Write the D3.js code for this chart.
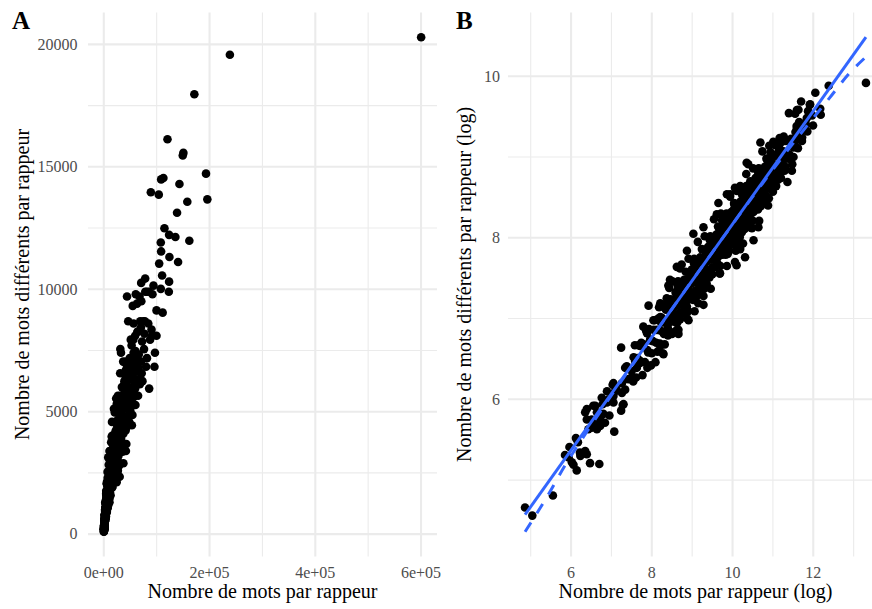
<!DOCTYPE html>
<html>
<head>
<meta charset="utf-8">
<script src="https://cdn.jsdelivr.net/npm/d3@7"></script>
<style>
  body { margin: 0; background: #fff; }
  text { font-family: "Liberation Serif", "DejaVu Serif", serif; }
</style>
</head>
<body>
<svg id="chart" width="872" height="609"></svg>
<script>
// Data: each rapper as [log(nombre de mots), log(nombre de mots différents)]
// Panel A shows exp() of these, panel B the log values themselves.

// lower tail of the cloud
const queueBasse = [
  [4.86,4.66],[5.04,4.56],[5.55,4.81],
  [5.85,5.31],[5.94,5.28],[5.96,5.41],[6.02,5.22],[6.06,5.19],[6.14,5.12],[6.12,5.52],
  [6.17,5.47],[6.22,5.34],[6.23,5.30],[6.35,5.36],[6.39,5.32],[6.47,5.21],[6.70,5.20],
  [6.35,5.84],[6.39,5.75],[6.39,5.88],[6.43,5.63],[6.51,5.65],[6.51,5.75],[6.55,5.92],
  [6.60,5.71],[6.60,5.92],[6.64,5.63],[6.64,5.84],[6.72,5.67],[6.72,5.77],[6.76,6.02],
  [6.78,5.94],[6.80,5.82],[6.84,5.71],[6.89,5.96],[6.89,6.10],[6.93,6.00],[6.95,5.80],
  [7.03,6.18],[7.05,5.96],[7.05,6.04],[7.05,6.20],[7.07,5.60],[7.09,6.10],[7.13,6.12],
  [7.24,5.86],[7.24,6.64],[7.26,6.08],[7.26,6.20],[7.28,5.93],[7.30,5.94],[7.34,6.12],
  [7.34,6.39],[7.38,6.41],[7.42,6.25],[7.50,6.35],[7.54,6.22],[7.54,6.27],[7.59,6.47],
  [7.63,6.39],[7.71,6.45],[7.71,6.66]
];

// body of the cloud
const coeurNuage = [
  [7.50,6.27],[7.55,6.52],[7.58,6.67],[7.61,6.27],[7.64,6.51],[7.67,6.67],
  [7.70,6.48],[7.74,6.70],[7.77,6.30],[7.80,6.68],[7.83,6.46],[7.86,6.85],[7.89,6.61],
  [7.91,6.58],[7.93,6.87],[7.96,6.73],[7.98,6.42],
  [8.00,6.57],[8.03,6.72],[8.05,6.86],[8.07,6.98],[8.09,6.46],
  [8.11,6.70],[8.13,6.86],[8.16,7.00],[8.18,7.14],[8.14,6.59],
  [8.20,6.69],[8.22,6.85],[8.25,7.01],[8.27,7.15],[8.29,6.56],[8.23,6.95],
  [8.30,6.81],[8.33,6.98],[8.35,7.11],[8.37,7.25],[8.32,6.68],[8.39,6.90],
  [8.40,6.79],[8.42,6.95],[8.45,7.10],[8.47,7.24],[8.43,7.38],[8.49,7.03],[8.41,7.17],
  [8.50,6.81],[8.55,6.96],[8.52,7.07],[8.57,7.15],[8.54,7.23],[8.59,7.32],[8.51,7.46],[8.56,7.03],
  [8.63,6.95],[8.68,7.17],[8.60,7.33],[8.65,7.46],[8.69,7.07],[8.62,7.25],[8.66,6.81],[8.64,7.41],
  [8.77,7.08],[8.71,7.27],[8.79,7.43],[8.73,7.19],[8.76,7.35],[8.70,6.99],[8.74,7.67],[8.78,7.25],
  [8.85,7.21],[8.82,7.40],[8.88,7.00],[8.80,7.48],[8.87,7.29],[8.84,7.58],[8.89,7.45],[8.81,7.12],
  [8.90,7.09],[8.95,7.24],[8.92,7.35],[8.97,7.43],[8.94,7.51],[8.99,7.60],[8.91,7.74],[8.96,7.31],
  [9.03,7.23],[9.08,7.45],[9.00,7.61],[9.05,7.74],[9.09,7.35],[9.02,7.53],[9.06,7.09],[9.04,7.69],
  [9.17,7.36],[9.11,7.55],[9.19,7.71],[9.13,7.47],[9.16,7.63],[9.10,7.27],[9.14,7.95],[9.18,7.53],
  [9.25,7.49],[9.22,7.68],[9.28,7.28],[9.20,7.76],[9.27,7.57],[9.24,7.86],[9.29,7.73],[9.21,7.40],
  [9.30,7.37],[9.35,7.52],[9.32,7.63],[9.37,7.71],[9.34,7.79],[9.39,7.88],[9.31,8.02],[9.36,7.59],
  [9.43,7.51],[9.48,7.73],[9.40,7.89],[9.45,8.02],[9.49,7.63],[9.42,7.81],[9.46,7.37],[9.44,7.97],
  [9.57,7.64],[9.51,7.83],[9.59,7.99],[9.53,7.75],[9.56,7.91],[9.50,7.55],[9.54,8.23],[9.58,7.81],
  [9.65,7.77],[9.62,7.96],[9.68,7.56],[9.60,8.04],[9.67,7.85],[9.64,8.14],[9.69,8.01],[9.61,7.68],
  [9.70,7.65],[9.75,7.80],[9.72,7.91],[9.77,7.99],[9.74,8.07],[9.79,8.16],[9.71,8.30],[9.76,7.87],
  [9.83,7.79],[9.88,8.01],[9.80,8.17],[9.85,8.30],[9.89,7.91],[9.82,8.09],[9.86,7.65],[9.84,8.25],
  [9.97,7.92],[9.91,8.11],[9.99,8.27],[9.93,8.03],[9.96,8.19],[9.90,7.83],[9.94,8.51],[9.98,8.09],
  [10.05,8.05],[10.02,8.24],[10.08,7.84],[10.00,8.32],[10.07,8.13],[10.04,8.42],[10.09,8.29],[10.01,7.96],
  [10.10,7.93],[10.15,8.08],[10.12,8.19],[10.17,8.27],[10.14,8.35],[10.19,8.44],[10.11,8.58],[10.16,8.15],
  [10.23,8.07],[10.28,8.29],[10.20,8.45],[10.25,8.58],[10.29,8.19],[10.22,8.37],[10.26,7.93],[10.24,8.53],
  [10.37,8.20],[10.31,8.39],[10.39,8.55],[10.33,8.31],[10.36,8.47],[10.30,8.11],[10.34,8.79],[10.38,8.37],
  [10.45,8.33],[10.42,8.52],[10.48,8.12],[10.40,8.60],[10.47,8.41],[10.44,8.70],[10.49,8.57],[10.41,8.24],
  [10.50,8.21],[10.55,8.36],[10.52,8.47],[10.57,8.55],[10.54,8.63],[10.59,8.72],[10.51,8.86],[10.56,8.43],
  [10.63,8.35],[10.68,8.57],[10.60,8.73],[10.65,8.86],[10.69,8.47],[10.62,8.65],[10.66,8.21],[10.64,8.81],
  [10.77,8.48],[10.71,8.67],[10.79,8.83],[10.73,8.59],[10.76,8.75],[10.70,8.39],[10.74,9.07],[10.78,8.65],
  [10.85,8.61],[10.82,8.80],[10.88,8.40],[10.80,8.88],[10.87,8.69],[10.84,8.98],[10.89,8.85],[10.81,8.52],
  [10.90,8.49],[10.95,8.64],[10.92,8.75],[10.97,8.83],[10.94,8.91],[10.99,9.00],[10.91,9.14],[10.96,8.71],
  [11.00,8.57],[11.04,8.75],[11.02,8.89],[11.07,9.02],[11.05,9.15],[11.09,8.82],
  [11.13,8.72],[11.10,8.90],[11.16,9.04],[11.12,9.18],[11.18,8.79],
  [11.20,8.74],[11.24,8.93],[11.22,9.07],[11.27,9.20],[11.25,9.01],[11.29,8.83],
  [11.31,8.88],[11.34,9.06],[11.36,9.20],[11.38,8.98],
  [11.41,9.03],[11.43,9.19],[11.48,8.91],[11.51,9.12],[11.62,9.11],[11.72,9.20]
];

// densest part, close to the fitted line
const coeurDense = [
  [9.62,7.69],[9.66,7.81],[9.69,7.92],[9.64,8.02],[9.67,8.11],[9.60,7.75],
  [9.75,7.79],[9.71,7.93],[9.77,8.04],[9.73,8.14],[9.79,7.85],[9.74,8.22],
  [9.88,7.80],[9.83,7.97],[9.80,8.08],[9.86,8.18],[9.82,8.03],[9.85,7.91],
  [9.92,7.90],[9.96,8.02],[9.99,8.13],[9.94,8.23],[9.97,8.32],[9.90,7.96],
  [10.05,8.00],[10.01,8.14],[10.07,8.25],[10.03,8.35],[10.09,8.06],[10.04,8.43],
  [10.18,8.01],[10.13,8.18],[10.10,8.29],[10.16,8.39],[10.12,8.24],[10.15,8.12],
  [10.22,8.11],[10.26,8.23],[10.29,8.34],[10.24,8.44],[10.27,8.53],[10.20,8.17],
  [10.35,8.21],[10.31,8.35],[10.37,8.46],[10.33,8.56],[10.39,8.27],[10.34,8.64],
  [10.48,8.22],[10.43,8.39],[10.40,8.50],[10.46,8.60],[10.42,8.45],[10.45,8.33],
  [10.52,8.32],[10.56,8.44],[10.59,8.55],[10.54,8.65],[10.57,8.74],[10.50,8.38],
  [10.65,8.42],[10.61,8.56],[10.67,8.67],[10.63,8.77],[10.69,8.48],[10.64,8.85],
  [10.78,8.43],[10.73,8.60],[10.70,8.71],[10.76,8.81],[10.72,8.66],[10.75,8.54],
  [10.82,8.53],[10.86,8.65],[10.89,8.76],[10.84,8.86],[10.87,8.95],[10.80,8.59],
  [10.95,8.63],[10.91,8.77],[10.97,8.88],[10.93,8.98],[10.99,8.69],[10.94,9.06],
  [11.08,8.64],[11.03,8.81],[11.00,8.92],[11.06,9.02],[11.02,8.87],[11.05,8.75],
  [11.12,8.74],[11.16,8.86],[11.19,8.97],[11.14,9.07],[11.17,9.16],[11.10,8.80]
];

// isolated points around the cloud
const bordsNuage = [
  [7.79,6.90],[7.88,6.82],[7.89,6.39],[7.92,7.16],[7.96,6.74],[8.04,6.98],[8.21,7.02],
  [8.21,6.66],[8.21,7.19],[8.27,6.57],[8.37,7.19],[8.41,6.86],[8.41,7.41],[8.45,6.84],
  [8.45,7.48],[8.53,7.07],[8.62,6.86],[8.62,7.64],[8.66,6.86],[8.70,7.04],[8.70,7.62],
  [8.82,7.07],[8.87,7.15],[8.87,7.84],[8.91,6.98],[9.03,8.05],[9.11,7.31],[9.15,7.19],
  [9.28,7.17],[9.28,8.13],[9.36,7.43],[9.61,8.29],[9.65,8.43],[9.69,7.56],[9.86,8.54],
  [9.94,8.54],[10.02,8.25],[10.06,7.70],[10.06,8.62],[10.10,7.66],[10.19,7.86],[10.19,8.64],
  [10.31,7.76],[10.35,8.93],[10.39,8.91],[10.43,8.13],[10.52,7.97],[10.64,8.13],[10.69,9.18],
  [11.01,9.19],[11.26,9.07],[11.36,8.69],[11.42,9.00],[11.47,8.83],[11.51,9.00],[11.31,9.20]
];

// largest vocabularies (top of panel A)
const sommets = [
  [13.305,9.918],[12.382,9.882],[12.051,9.796],[11.699,9.688],[11.922,9.653],[11.914,9.646],
  [12.172,9.597],[12.185,9.523],[11.633,9.585],[11.594,9.581],[11.871,9.568],[11.396,9.544],
  [11.552,9.537],[11.970,9.516],[11.839,9.482],[11.650,9.433],[11.724,9.411],[11.816,9.404],
  [11.994,9.391],[11.588,9.385],[11.594,9.354],[11.729,9.334],[11.559,9.310],[11.853,9.316],
  [11.611,9.265],[11.724,9.241],[11.268,9.253],[11.166,9.236],[11.451,9.225],[11.588,9.212]
];

// fits shown in panel B
const droiteOrdonnee = 1.17, droitePente = 0.70;
const courbeX = [4.86, 5.4, 5.85, 6.5, 7.5, 8.5, 9.5, 10.5, 11.5, 12.4, 12.9, 13.305];
const courbeY = [4.36, 4.79, 5.18, 5.68, 6.41, 7.12, 7.82, 8.51, 9.17, 9.73, 10.04, 10.24];

const xTicksA = [0, 200000, 400000, 600000];
const yTicksA = [0, 5000, 10000, 15000, 20000];
const xTicksB = [6, 8, 10, 12];
const yTicksB = [6, 8, 10];

const rappeurs = queueBasse.concat(coeurNuage, coeurDense, bordsNuage, sommets);
const droite = x => droiteOrdonnee + droitePente * x;

const svg = d3.select("#chart");
const gridColor = "#ebebeb", tickColor = "#4d4d4d", blue = "#3366ff";
const panelTop = 12.5, panelBottom = 556.5;

function expand(ext) {
  const pad = (ext[1] - ext[0]) * 0.05;
  return [ext[0] - pad, ext[1] + pad];
}
function sci(d) {
  if (d === 0) return "0e+00";
  const e = Math.floor(Math.log10(d));
  return (d / Math.pow(10, e)) + "e+" + String(e).padStart(2, "0");
}

function panel(opts) {
  const g = svg.append("g");
  const x = opts.x, y = opts.y;
  const [x0, x1] = x.range(), [y0, y1] = y.range();

  // minor grid at midpoints, then major grid
  const mid = t => t.slice(1).map((v, i) => (v + t[i]) / 2);
  const xMinor = mid(opts.xTicks).concat(opts.xExtraMinor);
  const yMinor = mid(opts.yTicks).concat(opts.yExtraMinor);
  g.selectAll(".gxm").data(xMinor).enter().append("line")
    .attr("x1", d => x(d)).attr("x2", d => x(d)).attr("y1", y0).attr("y2", y1)
    .attr("stroke", gridColor).attr("stroke-width", 1.1);
  g.selectAll(".gym").data(yMinor).enter().append("line")
    .attr("x1", x0).attr("x2", x1).attr("y1", d => y(d)).attr("y2", d => y(d))
    .attr("stroke", gridColor).attr("stroke-width", 1.1);
  g.selectAll(".gx").data(opts.xTicks).enter().append("line")
    .attr("x1", d => x(d)).attr("x2", d => x(d)).attr("y1", y0).attr("y2", y1)
    .attr("stroke", gridColor).attr("stroke-width", 2.1);
  g.selectAll(".gy").data(opts.yTicks).enter().append("line")
    .attr("x1", x0).attr("x2", x1).attr("y1", d => y(d)).attr("y2", d => y(d))
    .attr("stroke", gridColor).attr("stroke-width", 2.1);

  // points
  g.append("g").selectAll("circle")
    .data(rappeurs)
    .enter().append("circle")
    .attr("cx", d => x(opts.fx(d[0])))
    .attr("cy", d => y(opts.fx(d[1])))
    .attr("r", 4.3)
    .attr("fill", "#000");

  // tick labels (no axis lines in this theme)
  g.selectAll(".tx").data(opts.xTicks).enter().append("text")
    .attr("x", d => x(d)).attr("y", 578)
    .attr("text-anchor", "middle")
    .attr("font-size", 16).attr("fill", tickColor)
    .text(opts.xFormat);
  g.selectAll(".ty").data(opts.yTicks).enter().append("text")
    .attr("x", opts.yLabelX).attr("y", d => y(d)).attr("dy", "0.33em")
    .attr("text-anchor", "end")
    .attr("font-size", 16).attr("fill", tickColor)
    .text(d => d);

  // titles
  g.append("text")
    .attr("x", (x0 + x1) / 2).attr("y", 598)
    .attr("text-anchor", "middle").attr("font-size", 20)
    .text(opts.xTitle);
  g.append("text")
    .attr("transform", `translate(${opts.yTitleX},${(y0 + y1) / 2}) rotate(-90)`)
    .attr("text-anchor", "middle").attr("font-size", 20)
    .text(opts.yTitle);
  g.append("text")
    .attr("x", opts.tagX).attr("y", 28.5)
    .attr("font-size", 25).attr("font-weight", "bold")
    .text(opts.tag);
  return g;
}

// Panel A : raw counts
const xA = d3.scaleLinear()
  .domain(expand(d3.extent(rappeurs, d => Math.exp(d[0]))))
  .range([88, 437]);
const yA = d3.scaleLinear()
  .domain(expand(d3.extent(rappeurs, d => Math.exp(d[1]))))
  .range([panelBottom, panelTop]);
panel({
  x: xA, y: yA, fx: Math.exp,
  xTicks: xTicksA, yTicks: yTicksA, xExtraMinor: [], yExtraMinor: [],
  xFormat: sci, yLabelX: 77.5, yTitleX: 29, tagX: 12, tag: "A",
  xTitle: "Nombre de mots par rappeur",
  yTitle: "Nombre de mots différents par rappeur"
});

// Panel B : logs, with the two fits
const xExtB = d3.extent(rappeurs, d => d[0]);
const yExtB = d3.extent(rappeurs.map(d => d[1]).concat(courbeY, xExtB.map(droite)));
const xB = d3.scaleLinear().domain(expand(xExtB)).range([508, 883]);
const yB = d3.scaleLinear().domain(expand(yExtB)).range([panelBottom, panelTop]);
const gB = panel({
  x: xB, y: yB, fx: d => d,
  xTicks: xTicksB, yTicks: yTicksB, xExtraMinor: [5, 13], yExtraMinor: [5],
  xFormat: d => d, yLabelX: 500, yTitleX: 471, tagX: 456, tag: "B",
  xTitle: "Nombre de mots par rappeur (log)",
  yTitle: "Nombre de mots différents par rappeur (log)"
});

gB.append("path")
  .datum(courbeX.map((v, i) => [v, courbeY[i]]))
  .attr("d", d3.line().x(d => xB(d[0])).y(d => yB(d[1])).curve(d3.curveMonotoneX))
  .attr("fill", "none").attr("stroke", blue)
  .attr("stroke-width", 3).attr("stroke-dasharray", "11,11");
gB.append("path")
  .datum(xExtB.map(v => [v, droite(v)]))
  .attr("d", d3.line().x(d => xB(d[0])).y(d => yB(d[1])))
  .attr("fill", "none").attr("stroke", blue)
  .attr("stroke-width", 3);
</script>
</body>
</html>
